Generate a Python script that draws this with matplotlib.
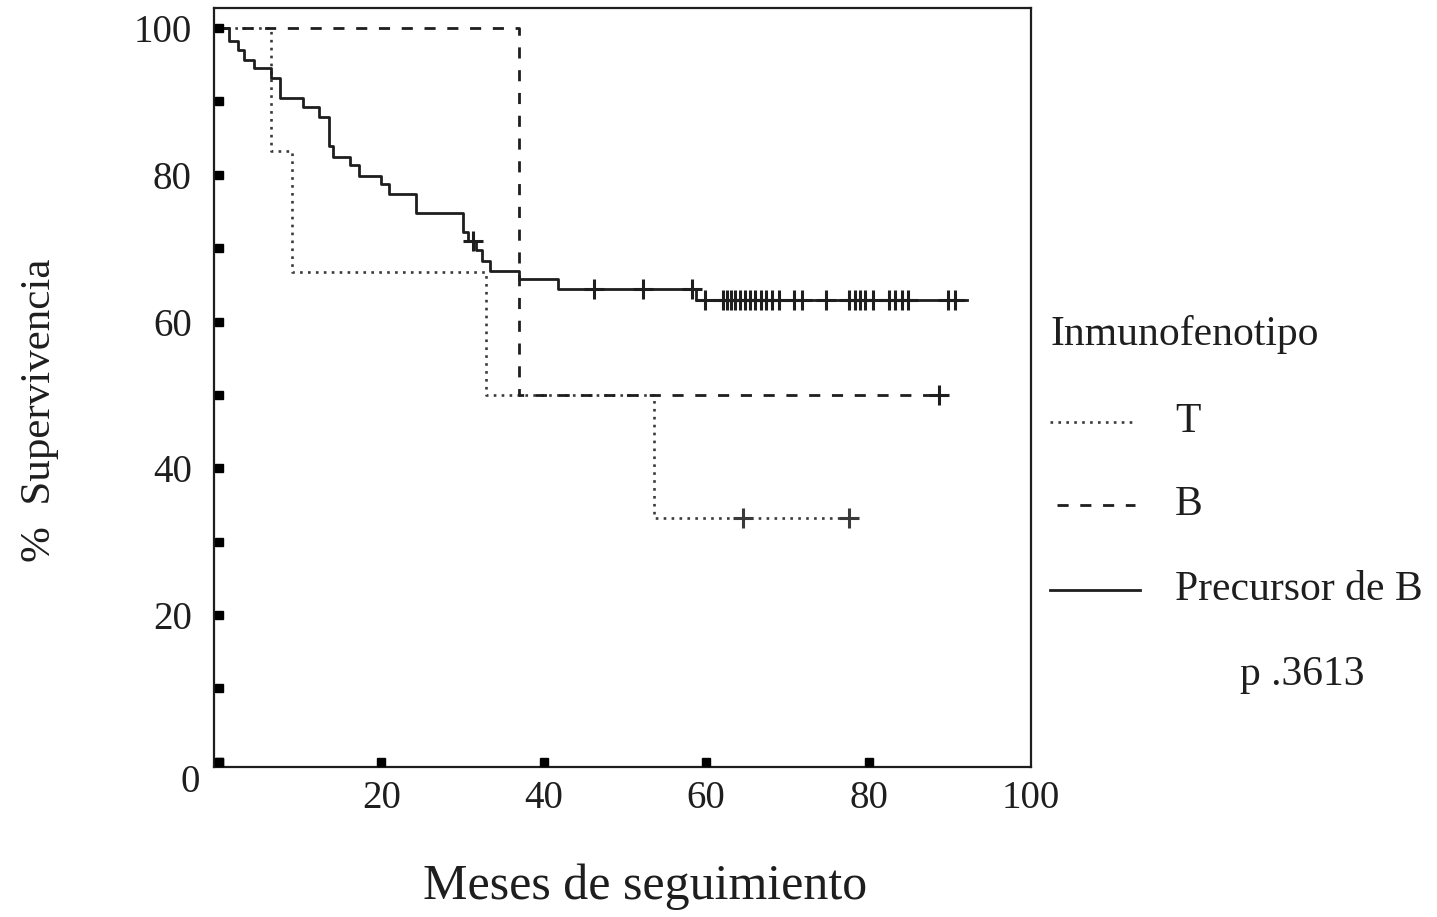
import numpy as np
import matplotlib
matplotlib.use("Agg")
import matplotlib.pyplot as plt
from matplotlib.lines import Line2D

plt.rcParams['font.family'] = ['Liberation Serif', 'DejaVu Serif']

# Kaplan-Meier steps (months, % survival)
t_times = [0, 6.4, 9.0, 32.9, 53.6]
t_surv = [100, 83.3, 66.7, 50.0, 33.3]
t_end = 77.6
t_cens = [64.5, 77.6]

b_times = [0, 36.9]
b_surv = [100, 50.0]
b_end = 88.7
b_cens = [88.7]

p_times = [0, 1.3, 2.3, 3.1, 4.3, 6.4, 7.5, 10.3, 12.3, 13.5, 14.1, 16.1, 17.2,
           20.0, 21.0, 24.3, 30.0, 30.7, 31.7, 32.4, 33.4, 36.9, 41.8, 58.8]
p_surv = [100, 98.2, 97.0, 95.7, 94.6, 93.2, 90.5, 89.2, 87.9, 83.9, 82.4, 81.4, 79.8,
          78.7, 77.4, 74.8, 72.2, 71.0, 69.7, 68.3, 66.9, 65.8, 64.4, 62.9]
p_end = 92.1
p_cens = [31.3, 46.2, 52.2, 58.3, 59.8, 62.1, 62.6, 63.1, 63.6, 64.2, 64.8, 65.4,
          66.0, 66.7, 67.4, 68.1, 69.0, 70.8, 71.8, 74.7, 77.6, 78.3, 78.9, 79.6,
          80.5, 82.5, 83.3, 84.1, 84.9, 89.8, 90.6]

y_ticks = [0, 10, 20, 30, 40, 50, 60, 70, 80, 90, 100]
y_labels = [20, 40, 60, 80, 100]
x_ticks = [0, 20, 40, 60, 80]
x_labels = [20, 40, 60, 80, 100]

ink = '#1e1e1e'
dot_style = dict(color='#3a3a3a', lw=1.9, linestyle=(0, (1, 2.0)))
dash_style = dict(color=ink, lw=2.0, linestyle=(0, (4, 4.2)))
solid_style = dict(color=ink, lw=2.0)


def level_at(times, surv, t):
    # survival value of a step curve at time t
    idx = np.searchsorted(times, t, side='right') - 1
    return np.array(surv)[idx]


def draw_curve(ax, times, surv, end, cens, zorder, **style):
    xs = list(times) + [end]
    ys = list(surv) + [surv[-1]]
    ax.step(xs, ys, where='post', zorder=zorder, **style)
    ax.plot(cens, level_at(times, surv, cens), linestyle='none', marker='+',
            markersize=14, markeredgewidth=2.2, color=style['color'],
            zorder=zorder)


fig = plt.figure(figsize=(14.37, 9.17), dpi=100)
ax = fig.add_axes([214 / 1437, 1 - 767 / 917, 817 / 1437, (767 - 7.5) / 917])

draw_curve(ax, t_times, t_surv, t_end, t_cens, 2, **dot_style)
draw_curve(ax, b_times, b_surv, b_end, b_cens, 3, **dash_style)
draw_curve(ax, p_times, p_surv, p_end, p_cens, 4, **solid_style)

ax.set_xlim(-0.6, 100)
ax.set_ylim(-0.7, 102.8)

# square tick marks on the axes
ax.plot([0] * len(y_ticks), y_ticks, linestyle='none', marker='s', markersize=5.5,
        color='black', clip_on=False, zorder=5)
ax.plot(x_ticks, [0] * len(x_ticks), linestyle='none', marker='s', markersize=5.5,
        color='black', clip_on=False, zorder=5)

ax.set_yticks(y_labels)
ax.set_yticklabels([str(v) for v in y_labels], fontsize=28, color=ink)
ax.set_xticks(x_labels)
ax.set_xticklabels([str(v) for v in x_labels], fontsize=28, color=ink)
ax.tick_params(axis='y', length=0, pad=16)
ax.tick_params(axis='x', length=0, pad=9)
ax.annotate('0', xy=(0, 0), xytext=(-21, -15), textcoords='offset points',
            ha='center', va='center', fontsize=28, color=ink)

for s in ax.spines.values():
    s.set_linewidth(1.6)
    s.set_color(ink)

fig.text(40 / 1437, 1 - 410 / 917, '%  Supervivencia', rotation=90,
         ha='center', va='center', fontsize=31, color=ink)
fig.text(645 / 1437, 1 - 887 / 917, 'Meses de seguimiento',
         ha='center', va='center', fontsize=36, color=ink)

# legend drawn by hand
fig.text(1050 / 1437, 1 - 335 / 917, 'Inmunofenotipo', ha='left', va='center',
         fontsize=30, color=ink)
legend_rows = [
    ('T', 422, dot_style, 1050, 1135),
    ('B', 505, dash_style, 1057, 1135),
    ('Precursor de B', 590, solid_style, 1050, 1140),
]
for label, ypx, style, x0, x1 in legend_rows:
    fig.add_artist(Line2D([x0 / 1437, x1 / 1437], [1 - ypx / 917] * 2,
                          transform=fig.transFigure, **style))
    fig.text(1175 / 1437, 1 - ypx / 917, label, ha='left', va='center',
             fontsize=30, color=ink)
fig.text(1302 / 1437, 1 - 675 / 917, 'p .3613', ha='center', va='center',
         fontsize=30, color=ink)

fig.savefig('out.png', dpi=100, facecolor='white')
